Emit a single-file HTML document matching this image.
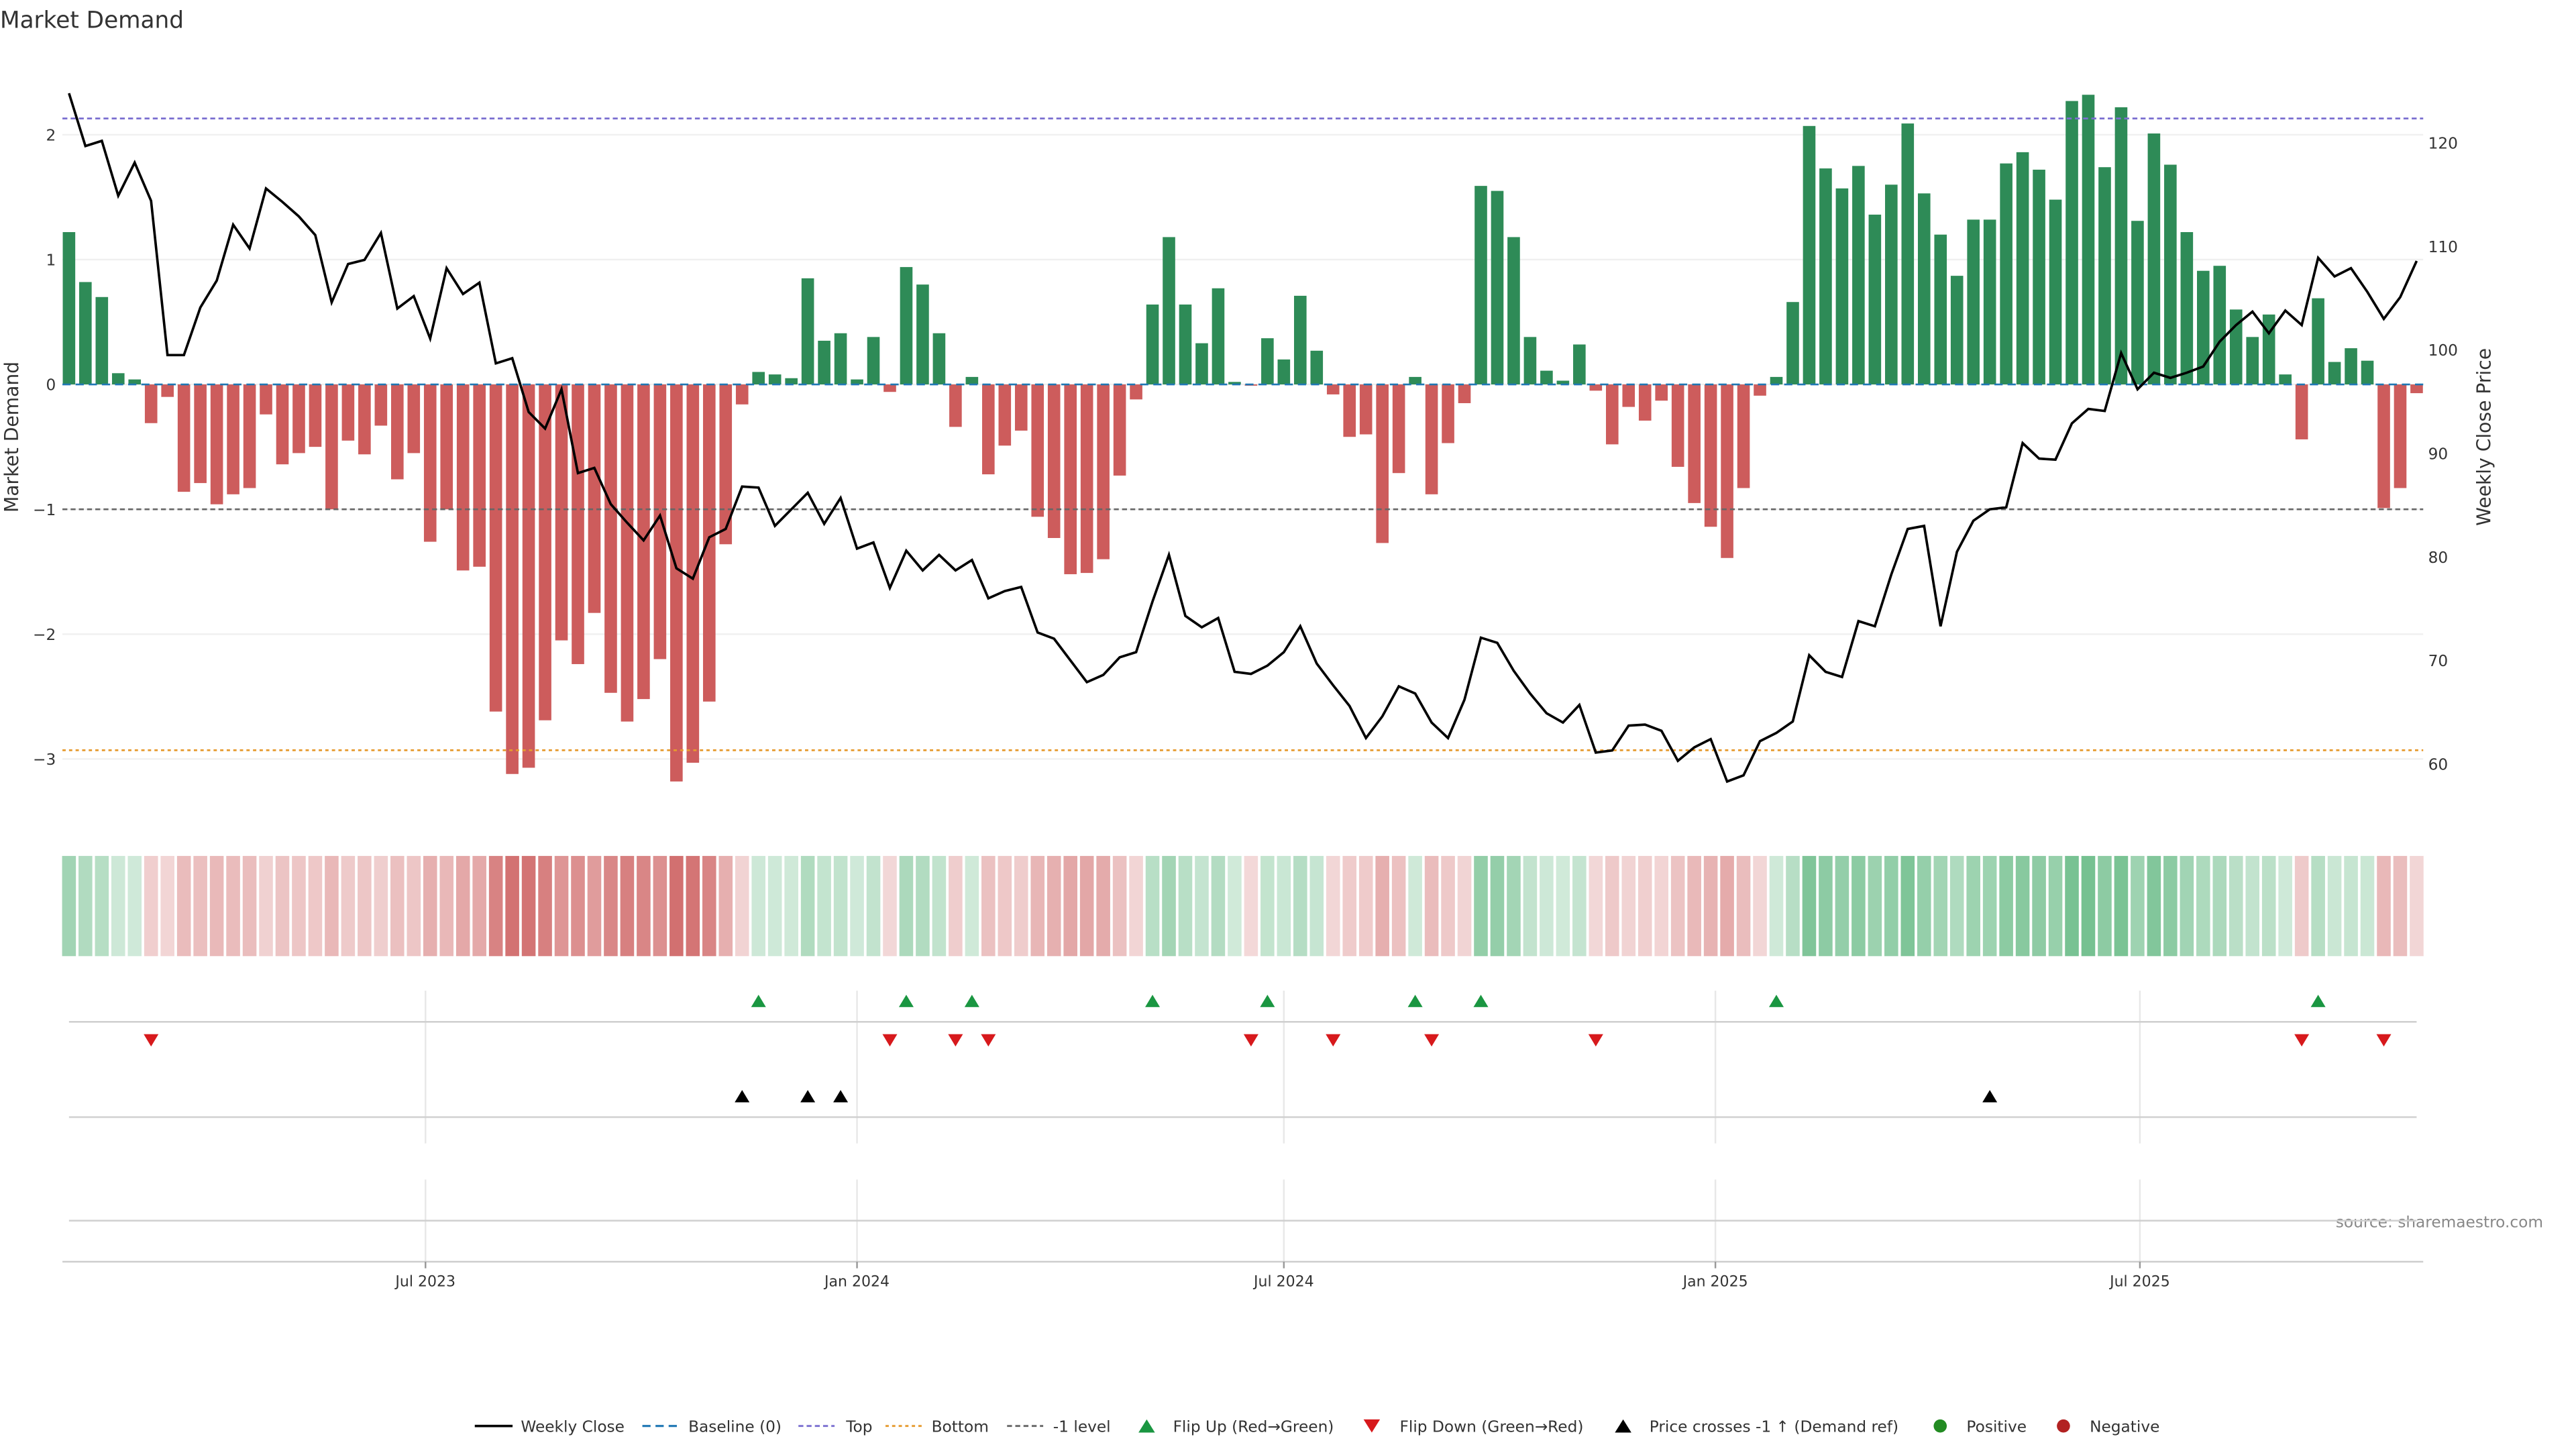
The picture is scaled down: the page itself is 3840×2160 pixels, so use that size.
<!DOCTYPE html>
<html><head><meta charset="utf-8"><style>
html,body{margin:0;padding:0;background:#fff;}
svg{display:block;font-family:"DejaVu Sans","Liberation Sans",sans-serif;}
</style></head><body>
<svg id="chart" width="3840" height="2160" viewBox="0 0 1568 882" xmlns="http://www.w3.org/2000/svg">
<text x="0" y="17" font-size="14" fill="#333">Market Demand</text>
<text transform="translate(11,266) rotate(-90)" text-anchor="middle" font-size="11.5" fill="#333">Market Demand</text>
<text transform="translate(1516,266) rotate(-90)" text-anchor="middle" font-size="11.5" fill="#333">Weekly Close Price</text>
<text x="1548" y="747" text-anchor="end" font-size="9.5" fill="#888">source: sharemaestro.com</text>
<g id="layer"></g>
<g id="legend" font-size="9.5" fill="#333">
 <g><line x1="289" y1="868" x2="312" y2="868" stroke="#000" stroke-width="1.5"/><text x="317" y="871.5">Weekly Close</text></g>
 <g><line x1="391" y1="868" x2="413" y2="868" stroke="#1f77b4" stroke-width="1.3" stroke-dasharray="5,3"/><text x="419" y="871.5">Baseline (0)</text></g>
 <g><line x1="486" y1="868" x2="508" y2="868" stroke="#7a6fd0" stroke-width="1.2" stroke-dasharray="3,2"/><text x="515" y="871.5">Top</text></g>
 <g><line x1="539" y1="868" x2="561" y2="868" stroke="#e69a2e" stroke-width="1.2" stroke-dasharray="2,2"/><text x="567" y="871.5">Bottom</text></g>
 <g><line x1="613" y1="868" x2="635" y2="868" stroke="#666" stroke-width="1.2" stroke-dasharray="3,2"/><text x="641" y="871.5">-1 level</text></g>
 <g><polygon points="693,872 703,872 698,864" fill="#1a9641"/><text x="714" y="871.5">Flip Up (Red→Green)</text></g>
 <g><polygon points="830,864 840,864 835,872" fill="#d7191c"/><text x="852" y="871.5">Flip Down (Green→Red)</text></g>
 <g><polygon points="983,872 993,872 988,864" fill="#000"/><text x="1004" y="871.5">Price crosses -1 ↑ (Demand ref)</text></g>
 <g><circle cx="1181" cy="868" r="4" fill="#228b22"/><text x="1197" y="871.5">Positive</text></g>
 <g><circle cx="1256" cy="868" r="4" fill="#b22222"/><text x="1272" y="871.5">Negative</text></g>
</g>
</svg>
<script>
const demand = [1.22,0.82,0.70,0.09,0.04,-0.31,-0.10,-0.86,-0.79,-0.96,-0.88,-0.83,-0.24,-0.64,-0.55,-0.50,-1.00,-0.45,-0.56,-0.33,-0.76,-0.55,-1.26,-1.00,-1.49,-1.46,-2.62,-3.12,-3.07,-2.69,-2.05,-2.24,-1.83,-2.47,-2.70,-2.52,-2.20,-3.18,-3.03,-2.54,-1.28,-0.16,0.10,0.08,0.05,0.85,0.35,0.41,0.04,0.38,-0.06,0.94,0.80,0.41,-0.34,0.06,-0.72,-0.49,-0.37,-1.06,-1.23,-1.52,-1.51,-1.40,-0.73,-0.12,0.64,1.18,0.64,0.33,0.77,0.02,-0.01,0.37,0.20,0.71,0.27,-0.08,-0.42,-0.40,-1.27,-0.71,0.06,-0.88,-0.47,-0.15,1.59,1.55,1.18,0.38,0.11,0.03,0.32,-0.05,-0.48,-0.18,-0.29,-0.13,-0.66,-0.95,-1.14,-1.39,-0.83,-0.09,0.06,0.66,2.07,1.73,1.57,1.75,1.36,1.60,2.09,1.53,1.20,0.87,1.32,1.32,1.77,1.86,1.72,1.48,2.27,2.32,1.74,2.22,1.31,2.01,1.76,1.22,0.91,0.95,0.60,0.38,0.56,0.08,-0.44,0.69,0.18,0.29,0.19,-0.99,-0.83,-0.07];
const price = [124.8,119.7,120.2,114.9,118.1,114.4,99.5,99.5,104.1,106.7,112.1,109.8,115.6,114.3,112.9,111.1,104.6,108.3,108.7,111.3,104.0,105.2,101.1,107.9,105.4,106.5,98.7,99.2,94.0,92.4,96.2,88.1,88.6,85.1,83.3,81.6,84.0,78.9,77.9,81.9,82.7,86.8,86.7,83.0,84.6,86.2,83.2,85.7,80.8,81.4,77.0,80.6,78.7,80.2,78.7,79.7,76.0,76.7,77.1,72.7,72.1,70.0,67.9,68.6,70.3,70.8,75.7,80.2,74.3,73.2,74.1,68.9,68.7,69.5,70.8,73.3,69.7,67.6,65.6,62.5,64.6,67.5,66.8,64.0,62.5,66.2,72.2,71.7,69.0,66.8,64.9,64.0,65.7,61.1,61.3,63.7,63.8,63.2,60.3,61.6,62.4,58.3,58.9,62.2,63.0,64.1,70.5,68.9,68.4,73.8,73.3,78.3,82.7,83.0,73.3,80.5,83.5,84.6,84.8,91.0,89.5,89.4,92.9,94.3,94.1,99.7,96.2,97.8,97.3,97.8,98.4,100.8,102.4,103.7,101.6,103.8,102.4,108.9,107.1,107.9,105.6,103.0,105.1,108.6];
const crossIdx = [41,45,47,117];
const leftTicks = [-3,-2,-1,0,1,2];
const rightTicks = [60,70,80,90,100,110,120];
const dateTicks = ["2023-07-01","2024-01-01","2024-07-01","2025-01-01","2025-07-01"];
const dateLabels = ["Jul 2023","Jan 2024","Jul 2024","Jan 2025","Jul 2025"];
const refTop = 2.13, refBottom = -2.93, refMinus = -1;
const startDate = "2023-01-30";

const NS="http://www.w3.org/2000/svg";
const layer=document.getElementById('layer');
function mk(tag,attrs,parent){const e=document.createElementNS(NS,tag);for(const k in attrs)e.setAttribute(k,attrs[k]);(parent||layer).appendChild(e);return e;}
const X0=42, X1=1471, n=demand.length, step=(X1-X0)/(n-1);
const xi=i=>X0+i*step;
const yL=v=>234-v*76;
const yR=p=>465-(p-60)*6.3;
const d0=new Date(startDate+"T00:00:00Z").getTime();
const xd=s=>X0+((new Date(s+"T00:00:00Z").getTime()-d0)/(7*864e5))*step;

leftTicks.forEach(t=>{
  const g=mk('line',{x1:38,x2:1475,y1:yL(t),y2:yL(t),stroke:'#f0f0f0','stroke-width':1});
  
  
  const tx=mk('text',{x:34,y:yL(t)+3.5,'text-anchor':'end','font-size':9.5,fill:'#333'});
  tx.textContent=(t<0?'\u2212'+Math.abs(t):String(t));
  
  
});
rightTicks.forEach(t=>{
  const tx=mk('text',{x:1478,y:yR(t)+3.5,'font-size':9.5,fill:'#333'});
  tx.textContent=String(t);
  
  
});
const bw=7.6;
demand.forEach((v,i)=>{
  const y=Math.min(yL(v),yL(0)), h=Math.abs(yL(v)-yL(0));
  const b=mk('rect',{x:xi(i)-bw/2,y:y,width:bw,height:Math.max(h,0.3),fill:v>=0?'#2e8b57':'#cd5c5c'});
  
  
});
[[0,'#1f77b4','5,3','baseline-line'],[refTop,'#7a6fd0','3,2','top-line'],[refBottom,'#e69a2e','2,2','bottom-line'],[refMinus,'#666','3,2','minus-one-line']].forEach(r=>{
  const l=mk('line',{x1:38,x2:1475,y1:yL(r[0]),y2:yL(r[0]),stroke:r[1],'stroke-width':1.1,'stroke-dasharray':r[2]});
  
  
});
const pl=mk('polyline',{points:price.map((p,i)=>xi(i)+','+yR(p)).join(' '),fill:'none',stroke:'#000','stroke-width':1.5,'stroke-linejoin':'miter'});


function mix(c,a){return 'rgb('+c.map(x=>Math.round(255+(x-255)*a)).join(',')+')';}
demand.forEach((v,i)=>{
  const a=0.22+0.6*Math.min(Math.abs(v)/3.2,1);
  const c=mk('rect',{x:xi(i)-4.2,y:521,width:8.4,height:61,fill:mix(v>=0?[46,160,87]:[200,80,80],a)});
  
  
});
dateTicks.forEach(d=>{
  const x=xd(d);
  const g1=mk('line',{x1:x,x2:x,y1:603,y2:696,stroke:'#e8e8e8','stroke-width':1});
  
  
  const g2=mk('line',{x1:x,x2:x,y1:718,y2:768,stroke:'#e8e8e8','stroke-width':1});
  
  
});
[622,680,743].forEach(y=>{
  const l=mk('line',{x1:42,x2:1471,y1:y,y2:y,stroke:'#cfcfcf','stroke-width':1});
  
  
});
for(let i=1;i<n;i++){
  const x=xi(i);
  if(demand[i-1]<0&&demand[i]>=0){
    const t=mk('polygon',{points:(x-4.5)+',613 '+(x+4.5)+',613 '+x+',605.5',fill:'#1a9641'});
    
    
  } else if(demand[i-1]>=0&&demand[i]<0){
    const t=mk('polygon',{points:(x-4.5)+',629.5 '+(x+4.5)+',629.5 '+x+',637',fill:'#d7191c'});
    
    
  }
}
crossIdx.forEach(i=>{
  const x=xi(i);
  const t=mk('polygon',{points:(x-4.5)+',671 '+(x+4.5)+',671 '+x+',663.5',fill:'#000'});
  
  
});
const ax=mk('line',{x1:38,x2:1475,y1:768,y2:768,stroke:'#ccc','stroke-width':1});


dateTicks.forEach((d,k)=>{
  const x=xd(d);
  const tk=mk('line',{x1:x,x2:x,y1:768,y2:772,stroke:'#999','stroke-width':1});
  
  
  const tx=mk('text',{x:x,y:783,'text-anchor':'middle','font-size':9,fill:'#333'});
  tx.textContent=dateLabels[k];
  
  
});
</script>
</body></html>
